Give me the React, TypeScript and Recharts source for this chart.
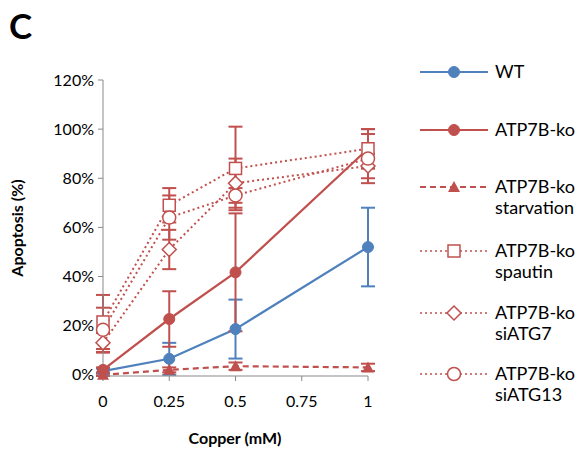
import React from "react";
import { LineChart, Line, XAxis, YAxis, ErrorBar } from "recharts";

// copper concentration (mM)
const copper = [0, 0.25, 0.5, 1];
const xTicks = [0, 0.25, 0.5, 0.75, 1];
const yTicks = [0, 20, 40, 60, 80, 100, 120];

// apoptosis (%) and error bars per series
const wt = [1.5, 6.5, 18.6, 52];
const wtErr = [1, 6.5, 12, 16];
const ko = [2, 22.7, 41.7, 92];
const koErr = [1, 11.3, 24, 8];
const starvation = [0, 2, 3.5, 3];
const starvationErr = [0.5, 1, 1.5, 1.5];
const spautin = [21.5, 69, 84, 92];
const spautinErr = [11, 7, 17, 8];
const siATG7 = [13, 51, 78, 85];
const siATG7Err = [4, 8, 10, 5];
const siATG13 = [18.3, 64, 73, 88];
const siATG13Err = [9, 9, 3, 10];

const data = copper.map((c, i) => ({
  copper: c,
  wt: wt[i],
  wtErr: wtErr[i],
  ko: ko[i],
  koErr: koErr[i],
  starvation: starvation[i],
  starvationErr: starvationErr[i],
  spautin: spautin[i],
  spautinErr: spautinErr[i],
  siATG7: siATG7[i],
  siATG7Err: siATG7Err[i],
  siATG13: siATG13[i],
  siATG13Err: siATG13Err[i],
}));

const BLUE = "#4F81BD";
const RED = "#C0504D";
const FONT = "Lato, 'Open Sans', sans-serif";

type Shape = "dot" | "triangle" | "square" | "diamond" | "circle";

const marker = (shape: Shape, color: string, cx: number, cy: number, key?: any) => {
  switch (shape) {
    case "dot":
      return <circle key={key} cx={cx} cy={cy} r={5.5} fill={color} stroke={color} />;
    case "triangle":
      return (
        <polygon
          key={key}
          points={`${cx},${cy - 6} ${cx + 6},${cy + 5} ${cx - 6},${cy + 5}`}
          fill={color}
        />
      );
    case "square":
      return (
        <rect key={key} x={cx - 6} y={cy - 6} width={12} height={12} fill="#fff" stroke={color} strokeWidth={1.5} />
      );
    case "diamond":
      return (
        <polygon
          key={key}
          points={`${cx},${cy - 7} ${cx + 7},${cy} ${cx},${cy + 7} ${cx - 7},${cy}`}
          fill="#fff"
          stroke={color}
          strokeWidth={1.5}
        />
      );
    default:
      return <circle key={key} cx={cx} cy={cy} r={6.5} fill="#fff" stroke={color} strokeWidth={1.5} />;
  }
};

const dotFor = (shape: Shape, color: string) => (p: any) =>
  marker(shape, color, p.cx, p.cy, `${shape}-${p.index}`);

const series = [
  { key: "wt", label: ["WT"], color: BLUE, dash: undefined, shape: "dot" as Shape },
  { key: "ko", label: ["ATP7B-ko"], color: RED, dash: undefined, shape: "dot" as Shape },
  { key: "starvation", label: ["ATP7B-ko", "starvation"], color: RED, dash: "6 4", shape: "triangle" as Shape },
  { key: "spautin", label: ["ATP7B-ko", "spautin"], color: RED, dash: "2 3", shape: "square" as Shape },
  { key: "siATG7", label: ["ATP7B-ko", "siATG7"], color: RED, dash: "2 3", shape: "diamond" as Shape },
  { key: "siATG13", label: ["ATP7B-ko", "siATG13"], color: RED, dash: "2 3", shape: "circle" as Shape },
];

const legendY = [72, 130, 187, 251, 313, 374];

export default function App() {
  return (
    <div style={{ position: "absolute", left: 0, top: 0, width: 587, height: 453, background: "#fff" }}>
      <LineChart
        width={587}
        height={453}
        data={data}
        margin={{ top: 80, right: 219, bottom: 47, left: 0 }}
      >
        <XAxis
          dataKey="copper"
          type="number"
          domain={[0, 1]}
          ticks={xTicks}
          height={30}
          stroke="#898989"
          tickSize={5}
          tickMargin={15}
          tick={{ fill: "#000", fontSize: 16, fontFamily: FONT }}
        />
        <YAxis
          domain={[0, 120]}
          ticks={yTicks}
          width={103}
          stroke="#898989"
          tickSize={5}
          tickMargin={4}
          tickFormatter={(v: number) => `${v}%`}
          tick={{ fill: "#000", fontSize: 16, fontFamily: FONT }}
        />
        {series.map((s) => (
          <Line
            key={s.key}
            dataKey={s.key}
            stroke={s.color}
            strokeWidth={s.dash === "2 3" ? 2 : 2.2}
            strokeDasharray={s.dash}
            dot={dotFor(s.shape, s.color)}
            activeDot={false}
            isAnimationActive={false}
            type="linear"
          >
            <ErrorBar dataKey={`${s.key}Err`} width={7} stroke={s.color} strokeWidth={2} direction="y" />
          </Line>
        ))}
      </LineChart>
      <svg
        width={587}
        height={453}
        style={{ position: "absolute", left: 0, top: 0, pointerEvents: "none" }}
        fontFamily={FONT}
      >
        <text x={9} y={39} fontSize={35} fontWeight="bold" fill="#000">C</text>
        <text
          x={23}
          y={228}
          fontSize={16}
          fontWeight="bold"
          textAnchor="middle"
          transform="rotate(-90 23 228)"
          fill="#000"
        >
          Apoptosis (%)
        </text>
        <text x={235} y={444} fontSize={16} fontWeight="bold" textAnchor="middle" fill="#000">
          Copper (mM)
        </text>
        {series.map((s, i) => {
          const y = legendY[i];
          return (
            <g key={s.key}>
              <line
                x1={420}
                x2={488}
                y1={y}
                y2={y}
                stroke={s.color}
                strokeWidth={s.dash === "2 3" ? 1.6 : 2.2}
                strokeDasharray={s.dash}
              />
              {marker(s.shape, s.color, 454, y)}
              {s.label.map((t, j) => (
                <text key={j} x={495} y={y + 6 + j * 21} fontSize={18} fill="#000">
                  {t}
                </text>
              ))}
            </g>
          );
        })}
      </svg>
    </div>
  );
}
